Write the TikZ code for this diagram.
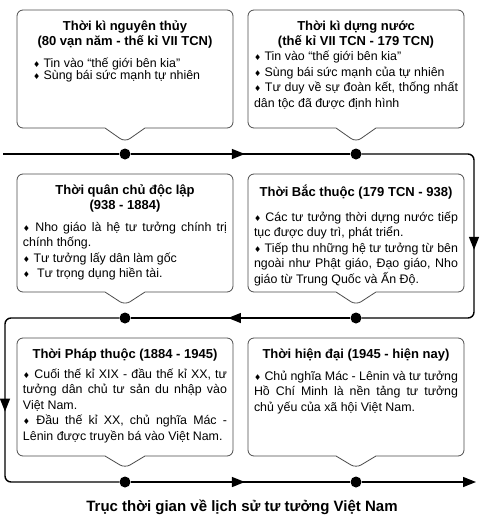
\documentclass[tikz,border=0pt]{standalone}
\usepackage{fontspec}
\setmainfont{Liberation Sans}
\newfontfamily\dejavu{DejaVu Sans}
\usetikzlibrary{shapes.callouts,arrows.meta,decorations.markings}
\newcommand{\bul}{{\dejavu\fontsize{8}{8}\selectfont ♦}\ }
\newcommand{\tieude}[1]{{\centering\bfseries\fontsize{13}{15}\selectfont #1\par}}
\newcommand{\hop}[1]{\begin{minipage}[t][104pt][t]{204pt}\vspace*{3.5pt}\fontsize{12.4}{15.5}\selectfont\hyphenpenalty=10000\tolerance=9999 #1\end{minipage}}

\begin{document}
\begin{tikzpicture}[x=1pt,y=-1pt,
    khung/.style={rectangle callout,draw=black!70,line width=0.8pt,rounded corners=6pt,fill=white,
        inner xsep=6pt,inner ysep=7pt,callout pointer width=40pt},
    dot/.style={circle,fill=black,inner sep=0pt,minimum size=11pt},
    tl/.style={line width=1.4pt},
    midarrow/.style={postaction={decorate},decoration={markings,
        mark=at position #1 with {\arrow{Triangle[length=13pt,width=10pt]}}}}]
    \useasboundingbox (0,0) rectangle (485,522);

    \node[dot] (d1) at (125,154) {};
    \node[dot] (d2) at (356,154) {};
    \node[dot] (d3) at (125,318) {};
    \node[dot] (d4) at (356,318) {};
    \node[dot] (d5) at (125,482) {};
    \node[dot] (d6) at (356,482) {};
    \coordinate (s) at (3,154);
    \coordinate (c1) at (474,154);
    \coordinate (c2) at (474,318);
    \coordinate (c3) at (5,318);
    \coordinate (c4) at (5,482);
    \coordinate (e) at (476,482);

    \coordinate (t1) at (125,142);
    \coordinate (t2) at (356,142);
    \coordinate (t3) at (125,305);
    \coordinate (t4) at (356,305);
    \coordinate (t5) at (125,468);
    \coordinate (t6) at (356,468);

    \node[khung,callout absolute pointer={(t1)}] (nguyenthuy) at (125,69) {\hop{%
        \tieude{Thời kì nguyên thủy\\(80 vạn năm - thế kỉ VII TCN)}
        \vspace{9.5pt}
        \baselineskip=12.5pt\leftskip=10pt
        \bul Tin vào “thế giới bên kia”\par
        \bul Sùng bái sức mạnh tự nhiên\par}};
    \node[khung,callout absolute pointer={(t2)}] (dungnuoc) at (356,69) {\hop{%
        \tieude{Thời kì dựng nước\\(thế kỉ VII TCN - 179 TCN)}
        \bul Tin vào “thế giới bên kia”\par
        \bul Sùng bái sức mạnh của tự nhiên\par
        \bul Tư duy về sự đoàn kết, thống nhất\linebreak dân tộc đã được định hình\par}};
    \node[khung,callout absolute pointer={(t3)}] (quanchu) at (125,233) {\hop{%
        \tieude{Thời quân chủ độc lập\\(938 - 1884)}
        \vspace{6.5pt}
        \bul Nho giáo là hệ tư tưởng chính trị\linebreak chính thống.\par
        \bul Tư tưởng lấy dân làm gốc\par
        \bul\ Tư trọng dụng hiền tài.\par}};
    \node[khung,callout absolute pointer={(t4)}] (bacthuoc) at (356,233) {\hop{%
        \tieude{Thời Bắc thuộc (179 TCN - 938)}
        \vspace{9.5pt}
        \bul Các tư tưởng thời dựng nước tiếp\linebreak tục được duy trì, phát triển.\par
        \bul Tiếp thu những hệ tư tưởng từ bên\linebreak ngoài như Phật giáo, Đạo giáo, Nho\linebreak giáo từ Trung Quốc và Ấn Độ.\par}};
    \node[khung,callout absolute pointer={(t5)}] (phapthuoc) at (125,397) {\hop{%
        \tieude{Thời Pháp thuộc (1884 - 1945)}
        \vspace{4.5pt}
        \bul Cuối thế kỉ XIX - đầu thế kỉ XX, tư\linebreak tưởng dân chủ tư sản du nhập vào\linebreak Việt Nam.\par
        \bul Đầu thế kỉ XX, chủ nghĩa Mác -\linebreak Lênin được truyền bá vào Việt Nam.\par}};
    \node[khung,callout absolute pointer={(t6)}] (hiendai) at (356,397) {\hop{%
        \tieude{Thời hiện đại (1945 - hiện nay)}
        \vspace{6.5pt}
        \bul Chủ nghĩa Mác - Lênin và tư tưởng\linebreak Hồ Chí Minh là nền tảng tư tưởng\linebreak chủ yếu của xã hội Việt Nam.\par}};

    \node[font=\bfseries\fontsize{15}{18}\selectfont] (chuthich) at (242,507) {Trục thời gian về lịch sử tư tưởng Việt Nam};

    \draw[tl] (s) -- (d1);
    \draw[tl,midarrow=0.52] (d1) -- (d2);
    \draw[tl,rounded corners=6pt,midarrow=0.536] (d2) -- (c1) -- (c2) -- (d4);
    \draw[tl,midarrow=0.557] (d4) -- (d3);
    \draw[tl,rounded corners=6pt,midarrow=0.53] (d3) -- (c3) -- (c4) -- (d5);
    \draw[tl,midarrow=0.52] (d5) -- (d6);
    \draw[tl,-{Triangle[length=13pt,width=10pt]}] (d6) -- (e);
\end{tikzpicture}
\end{document}
